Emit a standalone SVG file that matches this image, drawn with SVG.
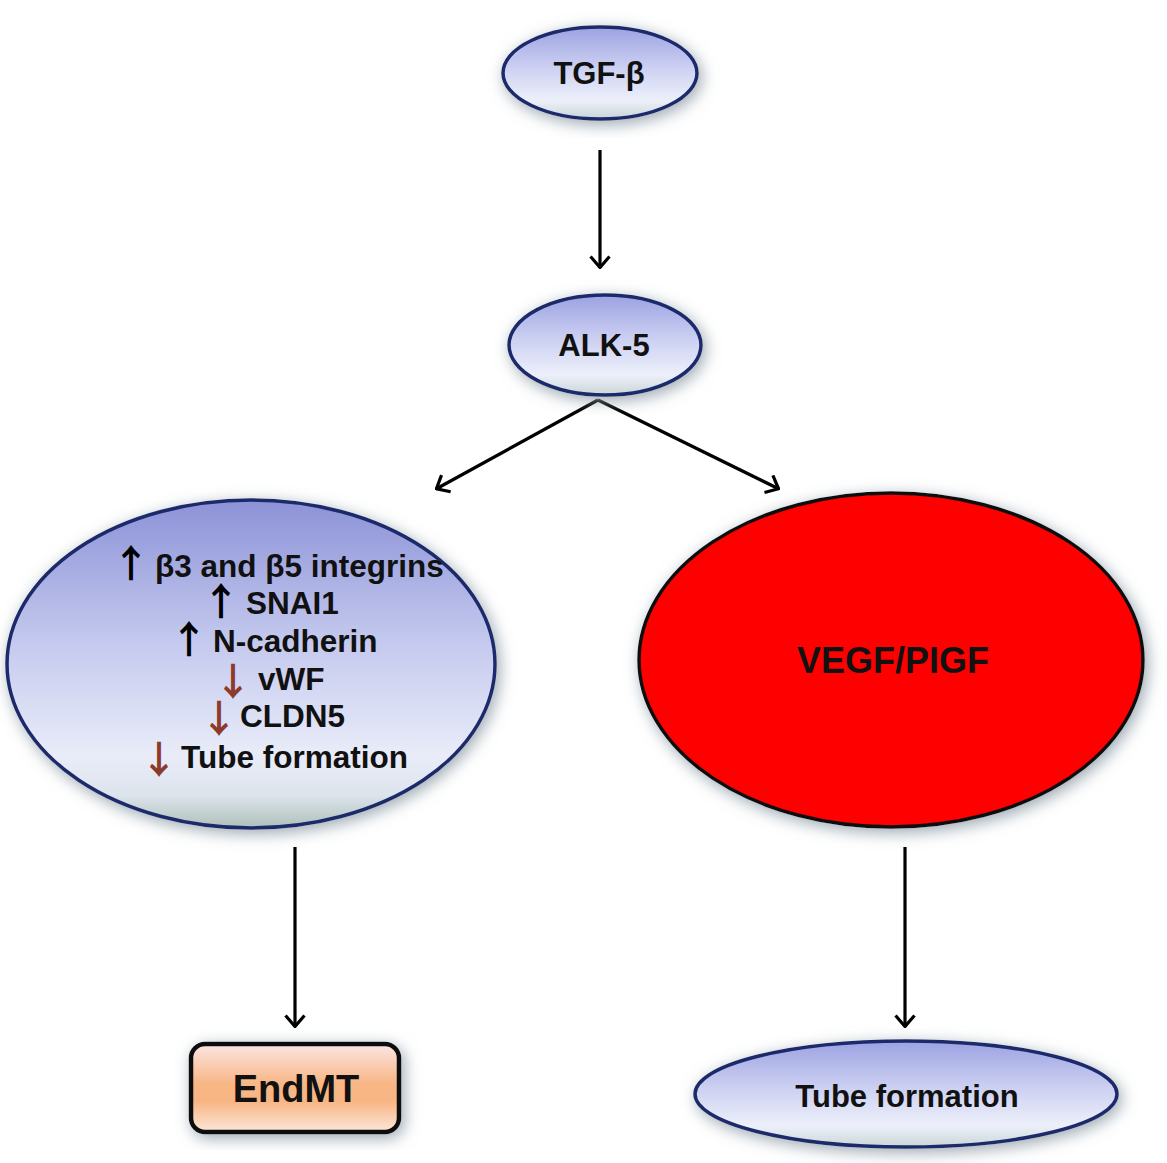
<svg xmlns="http://www.w3.org/2000/svg" width="1167" height="1163" viewBox="0 0 1167 1163">
  <defs>
    <linearGradient id="gBlue" x1="0" y1="0" x2="0" y2="1">
      <stop offset="0" stop-color="#9CA2E2"/>
      <stop offset="0.45" stop-color="#CDD1F2"/>
      <stop offset="0.8" stop-color="#EDF0FA"/>
      <stop offset="1" stop-color="#C9D6D6"/>
    </linearGradient>
    <linearGradient id="gBig" x1="0" y1="0" x2="0" y2="1">
      <stop offset="0" stop-color="#8C92D7"/>
      <stop offset="0.45" stop-color="#C6CBEF"/>
      <stop offset="0.78" stop-color="#E9ECF8"/>
      <stop offset="0.9" stop-color="#DDE4EC"/>
      <stop offset="1" stop-color="#AFC0BA"/>
    </linearGradient>
    <linearGradient id="gOrange" x1="0" y1="0" x2="0" y2="1">
      <stop offset="0" stop-color="#FBE6E4"/>
      <stop offset="0.45" stop-color="#F8B685"/>
      <stop offset="0.65" stop-color="#F8B584"/>
      <stop offset="1" stop-color="#FCE7DA"/>
    </linearGradient>
    <filter id="glow" x="-20%" y="-20%" width="140%" height="140%">
      <feGaussianBlur in="SourceAlpha" stdDeviation="8"/>
      <feOffset dx="3" dy="4" result="b"/>
      <feFlood flood-color="#8A99A4" flood-opacity="0.85"/>
      <feComposite in2="b" operator="in"/>
      <feMerge><feMergeNode/><feMergeNode in="SourceGraphic"/></feMerge>
    </filter>
    <marker id="arr" viewBox="0 0 14 22" refX="13" refY="11" markerWidth="14" markerHeight="22" markerUnits="userSpaceOnUse" orient="auto">
      <path d="M1.5,1.5 L12.5,11 L1.5,20.5" fill="none" stroke="#000" stroke-width="3.2" stroke-linejoin="miter"/>
    </marker>
  </defs>
  <style>
    .lbl { font-family: "Liberation Sans", Arial, sans-serif; font-weight: bold; fill: #111; text-anchor: middle; }
    .item { font-family: "Liberation Sans", Arial, sans-serif; font-weight: bold; fill: #111; font-size: 31.5px; }
    .up { font-family: "Noto Sans CJK SC", sans-serif; font-weight: bold; fill: #000; font-size: 38px; text-anchor: middle; }
    .down { font-family: "Noto Sans CJK SC", sans-serif; font-weight: bold; fill: #8B3A2C; font-size: 38px; text-anchor: middle; }
    .blue { stroke: #1A2A6C; stroke-width: 3.5; }
    .conn { stroke: #000; stroke-width: 3.2; fill: none; marker-end: url(#arr); }
  </style>
  <rect width="1167" height="1163" fill="#FFFFFF"/>

  <g id="connectors">
    <line class="conn" x1="600" y1="150" x2="600" y2="268"/>
    <line class="conn" x1="598" y1="400" x2="436" y2="489"/>
    <line class="conn" x1="598" y1="400" x2="779" y2="489"/>
    <line class="conn" x1="295" y1="847" x2="295" y2="1027"/>
    <line class="conn" x1="905" y1="847" x2="905" y2="1027"/>
  </g>

  <g id="node-tgfb">
    <ellipse cx="600" cy="73" rx="97" ry="46" fill="url(#gBlue)" class="blue" filter="url(#glow)"/>
    <text class="lbl" x="599" y="84" font-size="31">TGF-β</text>
  </g>

  <g id="node-alk5">
    <ellipse cx="605" cy="345" rx="96" ry="50" fill="url(#gBlue)" class="blue" filter="url(#glow)"/>
    <text class="lbl" x="604" y="356" font-size="31">ALK-5</text>
  </g>

  <g id="node-endmt-markers">
    <ellipse cx="251" cy="664" rx="244" ry="164" fill="url(#gBig)" class="blue" filter="url(#glow)"/>
    <text class="up" x="131" y="577">↑</text>
    <text class="item" x="155" y="577">β3 and β5 integrins</text>
    <text class="up" x="221" y="615">↑</text>
    <text class="item" x="246" y="614">SNAI1</text>
    <text class="up" x="189" y="653">↑</text>
    <text class="item" x="213" y="652">N-cadherin</text>
    <text class="down" x="233" y="695">↓</text>
    <text class="item" x="258" y="690">vWF</text>
    <text class="down" x="219" y="732">↓</text>
    <text class="item" x="240" y="727">CLDN5</text>
    <text class="down" x="159" y="773">↓</text>
    <text class="item" x="181" y="768">Tube formation</text>
  </g>

  <g id="node-vegf">
    <ellipse cx="891" cy="660" rx="252" ry="167" fill="#FE0000" stroke="#111" stroke-width="3.5" filter="url(#glow)"/>
    <text class="lbl" x="893" y="673" font-size="36">VEGF/PIGF</text>
  </g>

  <g id="node-endmt">
    <rect x="191" y="1044" width="208" height="88" rx="14" ry="14" fill="url(#gOrange)" stroke="#111" stroke-width="4.5" filter="url(#glow)"/>
    <text class="lbl" x="296" y="1102" font-size="38">EndMT</text>
  </g>

  <g id="node-tube">
    <ellipse cx="906" cy="1094" rx="211" ry="53" fill="url(#gBlue)" class="blue" filter="url(#glow)"/>
    <text class="lbl" x="907" y="1107" font-size="31">Tube formation</text>
  </g>
</svg>
